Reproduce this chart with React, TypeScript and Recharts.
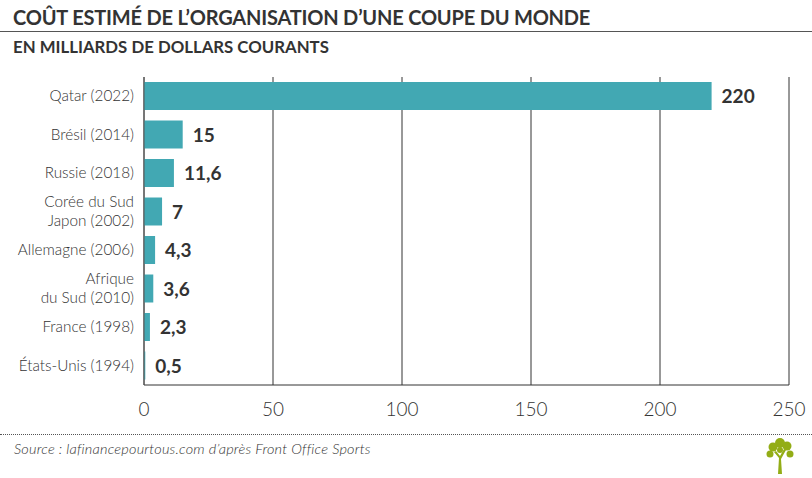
import React from 'react';
import { BarChart, Bar, XAxis, YAxis, CartesianGrid, LabelList } from 'recharts';

const countries = [
  'Qatar (2022)',
  'Brésil (2014)',
  'Russie (2018)',
  'Corée du Sud\nJapon (2002)',
  'Allemagne (2006)',
  'Afrique\ndu Sud (2010)',
  'France (1998)',
  'États-Unis (1994)',
];
const costs = [220, 15, 11.6, 7, 4.3, 3.6, 2.3, 0.5];
const xTicks = [0, 50, 100, 150, 200, 250];

const data = countries.map((name, i) => ({ name, cost: costs[i] }));

const TEXT = '#333333';
const BAR = '#42a8b3';
const FONT = 'Lato, "Open Sans", sans-serif';

// multi-line category labels, right aligned against the axis
const CountryTick = (props: any) => {
  const { x, y, payload } = props;
  const lines: string[] = String(payload.value).split('\n');
  const lh = 19;
  const start = -((lines.length - 1) * lh) / 2;
  return (
    <text x={x} y={y} textAnchor="end" fill={TEXT} fontSize={15.3} fontWeight={300} fontFamily={FONT}>
      {lines.map((l, i) => (
        <tspan key={i} x={x} dy={i === 0 ? start + 5 : lh}>{l}</tspan>
      ))}
    </text>
  );
};

const ValueLabel = (props: any) => {
  const { x, y, width, height, value } = props;
  return (
    <text x={x + width + 10} y={y + height / 2 + 7} fill={TEXT} fontSize={19} fontWeight={700} fontFamily={FONT}>
      {String(value).replace('.', ',')}
    </text>
  );
};

const Tree = () => (
  <svg width={40} height={40} viewBox="0 0 40 40" style={{ position: 'absolute', left: 760, top: 434 }}>
    <g fill="#93ad16">
      <path d="M18 40 L19 24 L14 18 L16 17 L20 22 L24 15 L26 16 L21 25 L22 40 Z" />
      <circle cx="20" cy="9" r="5" />
      <circle cx="13" cy="13" r="4.5" />
      <circle cx="27" cy="12" r="4.5" />
      <circle cx="10" cy="20" r="3.5" />
      <circle cx="30" cy="20" r="3.5" />
      <circle cx="20" cy="16" r="3" />
    </g>
  </svg>
);

export default function App() {
  return (
    <div style={{ position: 'absolute', left: 0, top: 0, width: 812, height: 478, background: '#fff', fontFamily: FONT, color: TEXT }}>
      <div style={{ position: 'absolute', left: 13, top: 5, fontSize: 20, fontWeight: 700, letterSpacing: -0.2, whiteSpace: 'nowrap' }}>
        COÛT ESTIMÉ DE L’ORGANISATION D’UNE COUPE DU MONDE
      </div>
      <div style={{ position: 'absolute', left: 0, top: 31, width: 812, height: 0, borderTop: '1.5px solid #555' }} />
      <div style={{ position: 'absolute', left: 13, top: 36, fontSize: 16.8, fontWeight: 700, whiteSpace: 'nowrap' }}>
        EN MILLIARDS DE DOLLARS COURANTS
      </div>
      <div style={{ position: 'absolute', left: 0, top: 70 }}>
        <BarChart
          width={812}
          height={360}
          data={data}
          layout="vertical"
          margin={{ top: 7, right: 23, left: 0, bottom: 15 }}
          barSize={28}
        >
          <CartesianGrid horizontal={false} stroke="#333" strokeWidth={1} />
          <XAxis
            type="number"
            domain={[0, 250]}
            ticks={xTicks}
            tickLine={false}
            axisLine={{ stroke: '#333' }}
            tick={{ fill: TEXT, fontSize: 19, fontWeight: 300, fontFamily: FONT }}
            tickMargin={12}
            height={30}
            interval={0}
          />
          <YAxis
            type="category"
            dataKey="name"
            width={144}
            tickLine={false}
            axisLine={{ stroke: '#555' }}
            tick={<CountryTick />}
            tickMargin={4}
            interval={0}
          />
          <Bar dataKey="cost" fill={BAR} isAnimationActive={false}>
            <LabelList dataKey="cost" content={<ValueLabel />} />
          </Bar>
        </BarChart>
      </div>
      <div style={{ position: 'absolute', left: 0, top: 434, width: 812, height: 0, borderTop: '1.5px dotted #555' }} />
      <div style={{ position: 'absolute', left: 14, top: 440, fontSize: 14.5, fontStyle: 'italic', fontWeight: 300, letterSpacing: 0.2, whiteSpace: 'nowrap' }}>
        Source : lafinancepourtous.com d’après Front Office Sports
      </div>
      <Tree />
    </div>
  );
}
